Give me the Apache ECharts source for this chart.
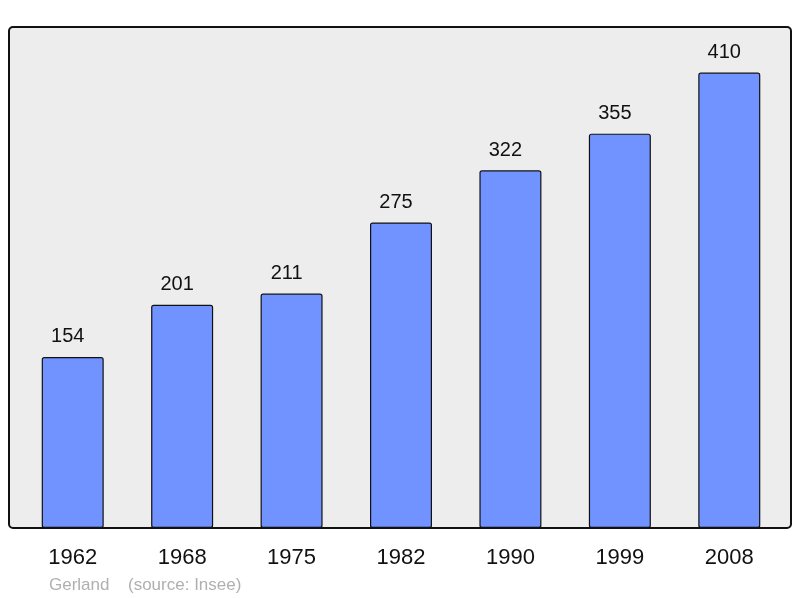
<!DOCTYPE html>
<html>
<head>
<meta charset="utf-8">
<script src="https://cdn.jsdelivr.net/npm/echarts@6/dist/echarts.min.js"></script>
<style>
  html, body { margin: 0; padding: 0; background: #fff; }
  #main { width: 800px; height: 598px; }
</style>
</head>
<body>
<div id="main"></div>
<script>
// annees du recensement et population
const years = ['1962', '1968', '1975', '1982', '1990', '1999', '2008'];
const population = [154, 201, 211, 275, 322, 355, 410];
const footerPlace = 'Gerland';
const footerSource = '(source: Insee)';

let myChart = echarts.init(document.getElementById('main'));

myChart.setOption({
  animation: false,
  textStyle: { fontFamily: 'Liberation Sans, Arial, sans-serif' },
  grid: { left: 18, right: 16, top: 27, bottom: 70 },
  graphic: [
    {
      type: 'rect',
      z: -10,
      silent: true,
      shape: { x: 9, y: 27, width: 782, height: 501, r: 4 },
      style: { fill: '#ededed', stroke: '#111', lineWidth: 2 }
    },
    {
      type: 'text',
      left: 49, top: 577,
      style: { text: footerPlace, fill: '#b0b0b0', fontSize: 17, fontFamily: 'Liberation Sans, Arial, sans-serif' }
    },
    {
      type: 'text',
      left: 128, top: 577,
      style: { text: footerSource, fill: '#b0b0b0', fontSize: 17, fontFamily: 'Liberation Sans, Arial, sans-serif' }
    }
  ],
  xAxis: {
    type: 'category',
    data: years,
    axisLine: { show: false },
    axisTick: { show: false },
    axisLabel: { color: '#111', fontSize: 22, margin: 19 }
  },
  yAxis: {
    type: 'value',
    min: 0,
    max: 451,
    show: false,
    splitLine: { show: false }
  },
  series: [{
    type: 'bar',
    data: population,
    barWidth: 62,
    itemStyle: { color: '#7093ff', borderColor: '#111', borderWidth: 1.2, borderRadius: 2 },
    label: { show: true, position: 'top', distance: 10, offset: [-5, 0], color: '#111', fontSize: 20 }
  }]
});
</script>
</body>
</html>
